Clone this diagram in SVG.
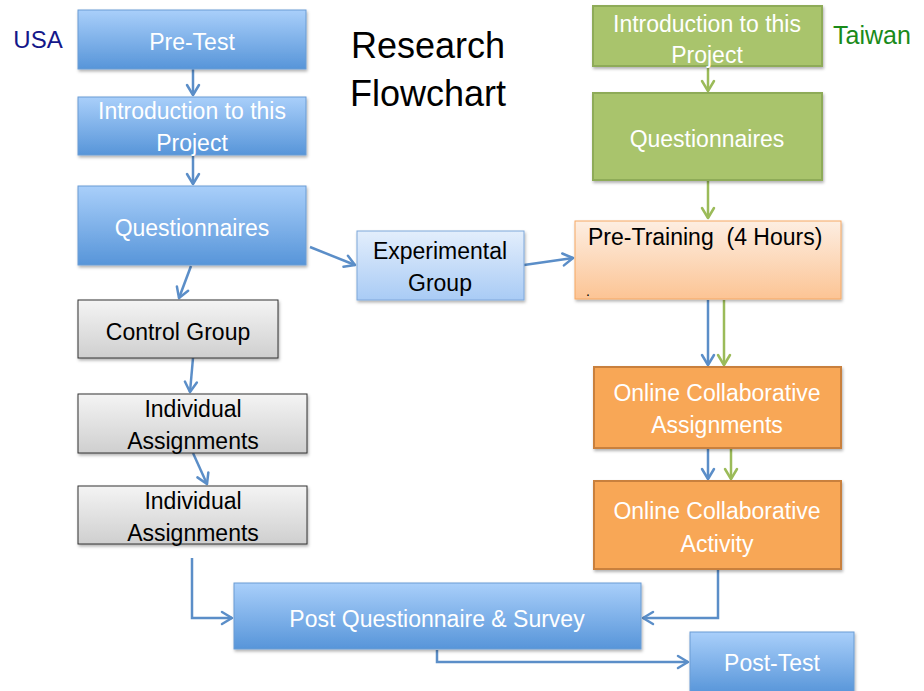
<svg xmlns="http://www.w3.org/2000/svg" width="924" height="691" viewBox="0 0 924 691">
  <defs>
    <linearGradient id="gBlue" x1="0" y1="0" x2="0" y2="1">
      <stop offset="0" stop-color="#a9cffa"/>
      <stop offset="1" stop-color="#5795d9"/>
    </linearGradient>
    <linearGradient id="gPale" x1="0" y1="0" x2="0" y2="1">
      <stop offset="0" stop-color="#e3eefc"/>
      <stop offset="1" stop-color="#a9cbf5"/>
    </linearGradient>
    <linearGradient id="gGray" x1="0" y1="0" x2="0" y2="1">
      <stop offset="0" stop-color="#f4f4f4"/>
      <stop offset="1" stop-color="#cfcfcf"/>
    </linearGradient>
    <linearGradient id="gPeach" x1="0" y1="0" x2="0" y2="1">
      <stop offset="0" stop-color="#fdeee2"/>
      <stop offset="1" stop-color="#fcc494"/>
    </linearGradient>
    <filter id="sh" x="-10%" y="-10%" width="120%" height="130%">
      <feDropShadow dx="1" dy="2" stdDeviation="1.5" flood-color="#000" flood-opacity="0.3"/>
    </filter>
    <marker id="aB" viewBox="-12 -8 14 16" markerWidth="14" markerHeight="16" refX="0" refY="0" orient="auto" markerUnits="userSpaceOnUse">
      <path d="M-10,-6 L0,0 L-10,6" fill="none" stroke="#5b8ec8" stroke-width="2.5" stroke-linecap="round" stroke-linejoin="round"/>
    </marker>
    <marker id="aG" viewBox="-12 -8 14 16" markerWidth="14" markerHeight="16" refX="0" refY="0" orient="auto" markerUnits="userSpaceOnUse">
      <path d="M-10,-6 L0,0 L-10,6" fill="none" stroke="#9bbb59" stroke-width="2.5" stroke-linecap="round" stroke-linejoin="round"/>
    </marker>
  </defs>
  <style>
    text { font-family: "Liberation Sans", Arial, sans-serif; font-size: 23px; text-anchor: middle; }
    .w { fill: #ffffff; }
    .k { fill: #000000; }
    .blue { fill: url(#gBlue); stroke: #6b9cd3; stroke-width: 1; filter: url(#sh); }
    .pale { fill: url(#gPale); stroke: #7ea7da; stroke-width: 1; filter: url(#sh); }
    .gray { fill: url(#gGray); stroke: #333333; stroke-width: 1; filter: url(#sh); }
    .green { fill: #a9c46c; stroke: #8eab58; stroke-width: 2; filter: url(#sh); }
    .peach { fill: url(#gPeach); stroke: #f5a864; stroke-width: 1; filter: url(#sh); }
    .orange { fill: #f8a757; stroke: #c9803d; stroke-width: 2; filter: url(#sh); }
    .cb { fill: none; stroke: #5b8ec8; stroke-width: 2.5; marker-end: url(#aB); }
    .cg { fill: none; stroke: #9bbb59; stroke-width: 2.5; marker-end: url(#aG); }
  </style>

  <rect width="924" height="691" fill="#ffffff"/>

  <g id="labels">
    <text x="38" y="48" style="font-size:24px;fill:#14178a">USA</text>
    <text x="833" y="44" style="font-size:25px;fill:#1a8a1a;text-anchor:start">Taiwan</text>
    <text x="428" y="58" class="k" style="font-size:36px">Research</text>
    <text x="428" y="106" class="k" style="font-size:36px">Flowchart</text>
  </g>

  <g id="connectors">
    <line x1="193" y1="69" x2="193" y2="95" class="cb"/>
    <line x1="193" y1="155" x2="193" y2="184" class="cb"/>
    <line x1="191" y1="266" x2="179" y2="298" class="cb"/>
    <line x1="310" y1="247" x2="355" y2="265" class="cb"/>
    <line x1="524" y1="265" x2="573" y2="258" class="cb"/>
    <line x1="193" y1="358" x2="190" y2="392" class="cb"/>
    <line x1="193" y1="453" x2="207" y2="484" class="cb"/>
    <polyline points="192,558 192,618 232,618" class="cb"/>
    <polyline points="718,569 718,618 643,618" class="cb"/>
    <polyline points="437,650 437,662 688,662" class="cb"/>
    <line x1="708" y1="66" x2="708" y2="91" class="cg"/>
    <line x1="708" y1="180" x2="708" y2="218" class="cg"/>
    <line x1="708" y1="300" x2="708" y2="365" class="cb"/>
    <line x1="724" y1="300" x2="724" y2="365" class="cg"/>
    <line x1="708" y1="449" x2="708" y2="479" class="cb"/>
    <line x1="731" y1="444" x2="731" y2="479" class="cg"/>
  </g>

  <g id="pretest">
    <rect x="78" y="10" width="228" height="59" class="blue"/>
    <text x="192" y="50" class="w">Pre-Test</text>
  </g>
  <g id="intro-usa">
    <rect x="78" y="97" width="228" height="58" class="blue"/>
    <text x="192" y="119" class="w">Introduction to this</text>
    <text x="192" y="151" class="w">Project</text>
  </g>
  <g id="questionnaires-usa">
    <rect x="78" y="186" width="228" height="79" class="blue"/>
    <text x="192" y="236" class="w">Questionnaires</text>
  </g>
  <g id="experimental">
    <rect x="357" y="231" width="167" height="69" class="pale"/>
    <text x="440" y="259" class="k">Experimental</text>
    <text x="440" y="291" class="k">Group</text>
  </g>
  <g id="control">
    <rect x="78" y="300" width="200" height="58" class="gray"/>
    <text x="178" y="340" class="k">Control Group</text>
  </g>
  <g id="individual-1">
    <rect x="78" y="394" width="229" height="59" class="gray"/>
    <text x="193" y="417" class="k">Individual</text>
    <text x="193" y="449" class="k">Assignments</text>
  </g>
  <g id="individual-2">
    <rect x="78" y="486" width="229" height="58" class="gray"/>
    <text x="193" y="509" class="k">Individual</text>
    <text x="193" y="541" class="k">Assignments</text>
  </g>
  <g id="intro-taiwan">
    <rect x="593" y="6" width="229" height="60" class="green"/>
    <text x="707" y="32" class="w">Introduction to this</text>
    <text x="707" y="63" class="w">Project</text>
  </g>
  <g id="questionnaires-taiwan">
    <rect x="593" y="93" width="229" height="87" class="green"/>
    <text x="707" y="147" class="w">Questionnaires</text>
  </g>
  <g id="pretraining">
    <rect x="575" y="221" width="266" height="78" class="peach"/>
    <text x="588" y="245" class="k" style="text-anchor:start">Pre-Training&#160; (4 Hours)</text>
    <text x="588" y="296" class="k" style="font-size:14px">.</text>
  </g>
  <g id="online-assignments">
    <rect x="594" y="367" width="247" height="81" class="orange"/>
    <text x="717" y="401" class="w">Online Collaborative</text>
    <text x="717" y="433" class="w">Assignments</text>
  </g>
  <g id="online-activity">
    <rect x="594" y="481" width="247" height="88" class="orange"/>
    <text x="717" y="519" class="w">Online Collaborative</text>
    <text x="717" y="552" class="w">Activity</text>
  </g>
  <g id="post-questionnaire">
    <rect x="234" y="583" width="407" height="66" class="blue"/>
    <text x="437" y="627" class="w">Post Questionnaire &amp; Survey</text>
  </g>
  <g id="posttest">
    <rect x="690" y="632" width="164" height="62" class="blue"/>
    <text x="772" y="671" class="w">Post-Test</text>
  </g>
</svg>
